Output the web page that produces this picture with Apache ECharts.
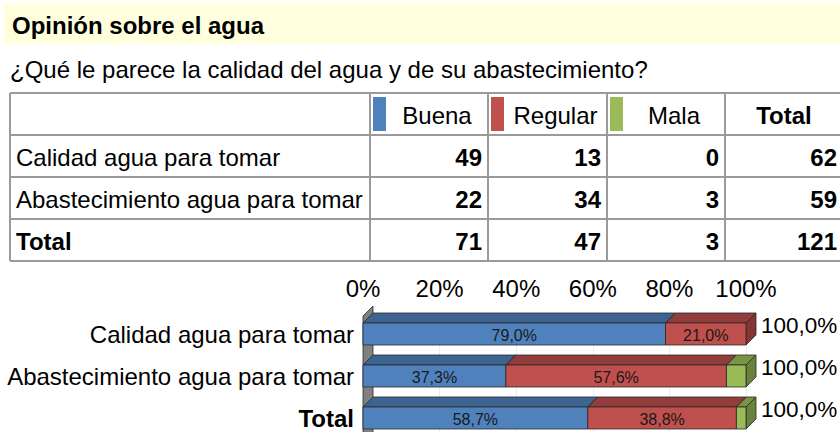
<!DOCTYPE html>
<html>
<head>
<meta charset="utf-8">
<script src="https://cdn.jsdelivr.net/npm/echarts@6/dist/echarts.min.js"></script>
<style>
  html, body { margin: 0; padding: 0; background: #fff; }
  #chart { width: 840px; height: 432px; }
</style>
</head>
<body>
<div id="chart"></div>
<script>
// ---- Data ----
const title = 'Opinión sobre el agua';
const subtitle = '¿Qué le parece la calidad del agua y de su abastecimiento?';
const categories = ['Calidad agua para tomar', 'Abastecimiento agua para tomar', 'Total'];
const seriesNames = ['Buena', 'Regular', 'Mala'];
const totalHeader = 'Total';
const buenaCount = [49, 22, 71];
const regularCount = [13, 34, 47];
const malaCount = [0, 3, 3];
const totalCount = [62, 59, 121];
const buenaPct = [79.0, 37.3, 58.7];
const regularPct = [21.0, 57.6, 38.8];
const malaPct = [0.0, 5.1, 2.5];
const totalPct = [100.0, 100.0, 100.0];
const xTicks = [0, 20, 40, 60, 80, 100];

// ---- Styles ----
const FONT = '"Liberation Sans", Arial, sans-serif';
const colors = {
  Buena:   { front: '#4F81BD', top: '#3D6491', side: '#36597F' },
  Regular: { front: '#C0504D', top: '#923D3B', side: '#843634' },
  Mala:    { front: '#9BBB59', top: '#7A9446', side: '#6A823B' }
};
const DEPTH = 10;
const EDGE = '#2a2a2a';

function fmtPct(v) { return v.toFixed(1).replace('.', ',') + '%'; }

// ---- Table graphics ----
const colX = [10, 370, 488, 607, 725, 843];
const rowY = [93, 135, 177, 219, 261];
const tableLine = '#9a9a9a';
const graphics = [];

graphics.push({ type: 'rect', shape: { x: 4, y: 3, width: 836, height: 41 }, style: { fill: '#FFFFDD' }, silent: true });
graphics.push({ type: 'text', x: 12, y: 25, style: { text: title, font: 'bold 24px ' + FONT, fill: '#000', textVerticalAlign: 'middle' } });
graphics.push({ type: 'text', x: 10, y: 69, style: { text: subtitle, font: '24px ' + FONT, fill: '#000', textVerticalAlign: 'middle' } });

rowY.forEach(function (y) {
  graphics.push({ type: 'line', shape: { x1: colX[0], y1: y, x2: colX[colX.length - 1], y2: y }, style: { stroke: tableLine, lineWidth: 2 } });
});
colX.forEach(function (x) {
  graphics.push({ type: 'line', shape: { x1: x, y1: rowY[0], x2: x, y2: rowY[rowY.length - 1] }, style: { stroke: tableLine, lineWidth: 2 } });
});

function rowMid(i) { return (rowY[i] + rowY[i + 1]) / 2 + 1; }

// header row
seriesNames.forEach(function (name, j) {
  const x0 = colX[j + 1], x1 = colX[j + 2];
  graphics.push({ type: 'rect', shape: { x: x0 + 3, y: rowY[0] + 4, width: 13, height: 34 }, style: { fill: colors[name].front } });
  graphics.push({ type: 'text', x: (x0 + 16 + x1) / 2, y: rowMid(0), style: { text: name, font: '24px ' + FONT, fill: '#000', textAlign: 'center', textVerticalAlign: 'middle' } });
});
graphics.push({ type: 'text', x: (colX[4] + colX[5]) / 2, y: rowMid(0), style: { text: totalHeader, font: 'bold 24px ' + FONT, fill: '#000', textAlign: 'center', textVerticalAlign: 'middle' } });

// body rows
const countCols = [buenaCount, regularCount, malaCount, totalCount];
categories.forEach(function (cat, i) {
  const isTotal = i === categories.length - 1;
  graphics.push({ type: 'text', x: 16, y: rowMid(i + 1), style: { text: cat, font: (isTotal ? 'bold ' : '') + '24px ' + FONT, fill: '#000', textVerticalAlign: 'middle' } });
  countCols.forEach(function (arr, j) {
    graphics.push({ type: 'text', x: colX[j + 2] - 6, y: rowMid(i + 1), style: { text: String(arr[i]), font: 'bold 24px ' + FONT, fill: '#000', textAlign: 'right', textVerticalAlign: 'middle' } });
  });
});

// ---- Bar segment data (stacked) ----
const pctSeries = [buenaPct, regularPct, malaPct];
function segmentData(k) {
  return categories.map(function (c, i) {
    let start = 0;
    for (let m = 0; m < k; m++) start += pctSeries[m][i];
    return [i, start, start + pctSeries[k][i], pctSeries[k][i]];
  });
}

function renderSegment(name) {
  const col = colors[name];
  return function (params, api) {
    const cat = api.value(0), s = api.value(1), e = api.value(2), v = api.value(3);
    if (!(e - s > 0)) return null;
    const p0 = api.coord([s, cat]);
    const p1 = api.coord([e, cat]);
    const band = api.size([0, 1])[1];
    const h = band * 0.524;
    const cy = p0[1];
    const x0 = p0[0], x1 = p1[0];
    const y0 = cy - h / 2, y1 = cy + h / 2;
    const D = DEPTH;
    const children = [
      { type: 'polygon', shape: { points: [[x0, y0], [x0 + D, y0 - D], [x1 + D, y0 - D], [x1, y0]] }, style: { fill: col.top, stroke: EDGE, lineWidth: 0.8 } },
      { type: 'polygon', shape: { points: [[x1, y0], [x1 + D, y0 - D], [x1 + D, y1 - D], [x1, y1]] }, style: { fill: col.side, stroke: EDGE, lineWidth: 0.8 } },
      { type: 'rect', shape: { x: x0, y: y0, width: x1 - x0, height: y1 - y0 }, style: { fill: col.front, stroke: EDGE, lineWidth: 0.8 } }
    ];
    if (v >= 10) {
      children.push({ type: 'text', x: (x0 + x1) / 2, y: cy + 1, style: { text: fmtPct(v), font: '16px ' + FONT, fill: '#1a1a1a', textAlign: 'center', textVerticalAlign: 'middle' } });
    }
    return { type: 'group', children: children };
  };
}

const series = [];
// back wall (left)
series.push({
  type: 'custom', name: 'wall', silent: true, z: 1,
  data: [[0]],
  encode: { x: 0 },
  renderItem: function (params, api) {
    const cs = params.coordSys;
    const x = api.coord([xTicks[0], 0])[0];
    const top = cs.y - 7, bottom = cs.y + cs.height + 20;
    return { type: 'polygon', shape: { points: [[x, top + DEPTH], [x + DEPTH, top], [x + DEPTH, bottom], [x, bottom + DEPTH]] }, style: { fill: '#808080', stroke: EDGE, lineWidth: 0.8 } };
  }
});
seriesNames.forEach(function (name, k) {
  series.push({
    type: 'custom', name: name, z: 3 + k,
    data: segmentData(k),
    encode: { x: [1, 2], y: 0 },
    renderItem: renderSegment(name)
  });
});
// total labels
series.push({
  type: 'custom', name: 'totales', z: 10,
  data: categories.map(function (c, i) { return [i, totalPct[i]]; }),
  encode: { x: 1, y: 0 },
  renderItem: function (params, api) {
    const p = api.coord([api.value(1), api.value(0)]);
    return { type: 'text', x: p[0] + 15, y: p[1] - 9, style: { text: fmtPct(api.value(1)), font: '22.5px ' + FONT, fill: '#000', textAlign: 'left', textVerticalAlign: 'middle' } };
  }
});

const chart = echarts.init(document.getElementById('chart'), null, { renderer: 'svg' });
chart.setOption({
  animation: false,
  backgroundColor: '#fff',
  textStyle: { fontFamily: FONT },
  grid: { left: 363, right: 94, top: 313, height: 126, containLabel: false, outerBoundsMode: 'none' },
  xAxis: {
    type: 'value', position: 'top', min: xTicks[0], max: xTicks[xTicks.length - 1], interval: xTicks[1] - xTicks[0],
    axisLine: { show: false }, axisTick: { show: false },
    axisLabel: { formatter: '{value}%', fontSize: 24, color: '#000', margin: 13, fontFamily: FONT },
    splitLine: { show: true, lineStyle: { color: '#ececec', width: 1 } }
  },
  yAxis: {
    type: 'category', data: categories, inverse: true,
    axisLine: { show: false }, axisTick: { show: false },
    axisLabel: {
      fontSize: 24, color: '#000', margin: 9, fontFamily: FONT,
      formatter: function (v, i) { return i === categories.length - 1 ? '{b|' + v + '}' : v; },
      rich: { b: { fontSize: 24, fontWeight: 'bold', color: '#000', fontFamily: FONT } }
    }
  },
  graphic: graphics,
  series: series
});
</script>
</body>
</html>
